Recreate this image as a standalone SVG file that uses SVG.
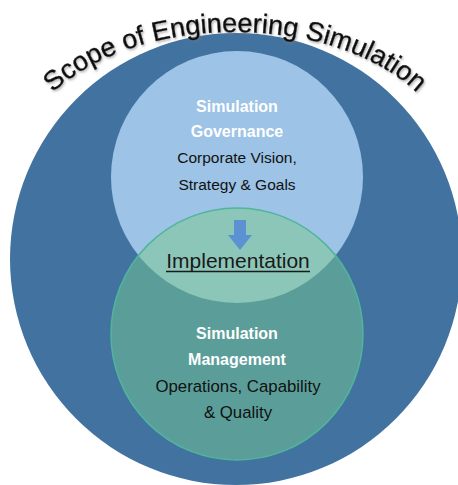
<svg xmlns="http://www.w3.org/2000/svg" width="458" height="485" viewBox="0 0 458 485">
  <defs>
    <style>
      .bold { font-family: "Liberation Sans", Arial, sans-serif; font-weight: bold; fill: #ffffff; font-size: 16px; text-anchor: middle; }
      .reg { font-family: "Liberation Sans", Arial, sans-serif; fill: #111111; font-size: 15.5px; text-anchor: middle; }
      .regl { font-family: "Liberation Sans", Arial, sans-serif; fill: #111111; font-size: 16.8px; text-anchor: middle; }
      .title { font-family: "Liberation Sans", Arial, sans-serif; fill: #111111; stroke: #111111; stroke-width: 0.4px; font-size: 27px; }
    </style>
    <clipPath id="upperClip">
      <circle cx="237" cy="177" r="126"/>
    </clipPath>
    <path id="titleArc" d="M 20 162 A 215 130 0 0 1 450 162"/>
    <filter id="shadow" x="-10%" y="-30%" width="120%" height="160%">
      <feDropShadow dx="1" dy="1.5" stdDeviation="1" flood-color="#777777" flood-opacity="0.6"/>
    </filter>
  </defs>

  <g id="scope">
    <circle cx="236" cy="259" r="226" fill="#4273a0"/>
    <text class="title" filter="url(#shadow)"><textPath href="#titleArc" startOffset="50%" text-anchor="middle">Scope of Engineering Simulation</textPath></text>
  </g>

  <g id="governance">
    <circle cx="237" cy="177" r="126" fill="#9dc3e6"/>
    <text class="bold" x="237" y="111.5">Simulation</text>
    <text class="bold" x="237" y="137">Governance</text>
    <text class="reg" x="237" y="163">Corporate Vision,</text>
    <text class="reg" x="237" y="190">Strategy &amp; Goals</text>
  </g>

  <g id="management">
    <circle cx="237" cy="334" r="126" fill="#5b9e99"/>
    <circle cx="237" cy="334" r="126" fill="#8cc6b8" clip-path="url(#upperClip)"/>
    <circle cx="237" cy="334" r="126" fill="none" stroke="#4fb59c" stroke-width="1.5"/>
    <text class="bold" x="237" y="339">Simulation</text>
    <text class="bold" x="237" y="365">Management</text>
    <text class="regl" x="238" y="392">Operations, Capability</text>
    <text class="regl" x="238" y="418">&amp; Quality</text>
  </g>

  <g id="connectors">
    <polygon points="234,220 246,220 246,235 252,235 240,250 228,235 234,235" fill="#5a92d2"/>
  </g>

  <g id="implementation">
    <text x="238" y="268" font-family="'Liberation Sans', Arial, sans-serif" font-size="21" fill="#1a1a1a" text-anchor="middle">Implementation</text>
    <line x1="166" y1="271.5" x2="310" y2="271.5" stroke="#1a1a1a" stroke-width="1.5"/>
  </g>
</svg>
